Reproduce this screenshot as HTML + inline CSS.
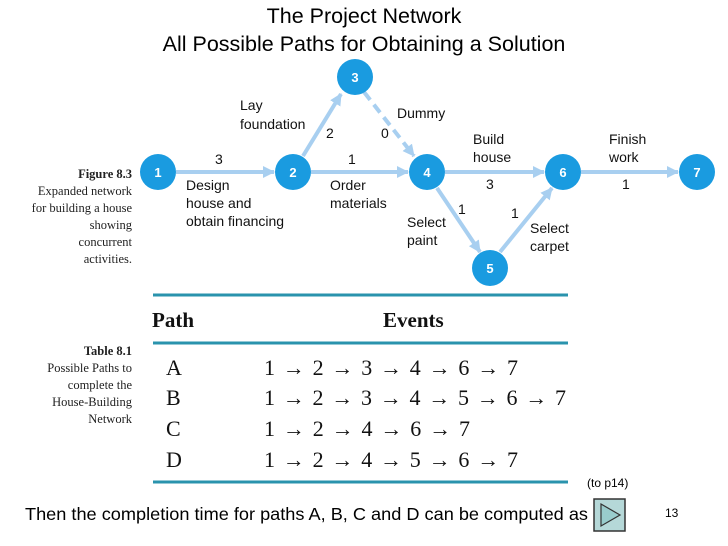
<!DOCTYPE html>
<html><head><meta charset="utf-8"><style>
body{margin:0;background:#fff}
svg{display:block}
</style></head><body>
<svg width="728" height="546" viewBox="0 0 728 546" xmlns="http://www.w3.org/2000/svg">
<defs>
<marker id="a" markerWidth="12" markerHeight="12" refX="11" refY="6" orient="auto" markerUnits="userSpaceOnUse"><path d="M0,0 L12,6 L0,12z" fill="#a8cff0"/></marker>
</defs>
<g font-family="Liberation Sans, sans-serif" fill="#000">
<text x="364" y="23" font-size="21.5" text-anchor="middle">The Project Network</text>
<text x="364" y="51" font-size="21.5" text-anchor="middle">All Possible Paths for Obtaining a Solution</text>
</g>
<g stroke="#a8cff0" stroke-width="4" fill="none">
<line x1="176" y1="172" x2="274" y2="172" marker-end="url(#a)"/>
<line x1="311" y1="172" x2="408" y2="172" marker-end="url(#a)"/>
<line x1="303" y1="156" x2="341" y2="94" marker-end="url(#a)"/>
<line x1="364" y1="92" x2="414" y2="156" stroke-dasharray="10,6" marker-end="url(#a)"/>
<line x1="445" y1="172" x2="544" y2="172" marker-end="url(#a)"/>
<line x1="437" y1="188" x2="480" y2="252" marker-end="url(#a)"/>
<line x1="500" y1="252" x2="552" y2="188" marker-end="url(#a)"/>
<line x1="581" y1="172" x2="678" y2="172" marker-end="url(#a)"/>
</g>
<g fill="#1a9be0">
<circle cx="158" cy="172" r="18"/><circle cx="293" cy="172" r="18"/><circle cx="355" cy="77" r="18"/>
<circle cx="427" cy="172" r="18"/><circle cx="490" cy="268" r="18"/><circle cx="563" cy="172" r="18"/><circle cx="697" cy="172" r="18"/>
</g>
<g font-family="Liberation Sans, sans-serif" font-weight="bold" font-size="13" fill="#fff" text-anchor="middle">
<text x="158" y="177">1</text><text x="293" y="177">2</text><text x="355" y="82">3</text><text x="427" y="177">4</text><text x="490" y="273">5</text><text x="563" y="177">6</text><text x="697" y="177">7</text>
</g>
<g font-family="Liberation Sans, sans-serif" font-size="14" fill="#111">
<text x="215" y="164">3</text><text x="348" y="164">1</text><text x="326" y="138">2</text><text x="381" y="138">0</text>
<text x="486" y="189">3</text><text x="622" y="189">1</text><text x="458" y="214">1</text><text x="511" y="218">1</text>
<text x="186" y="190">Design</text><text x="186" y="208">house and</text><text x="186" y="226">obtain financing</text>
<text x="240" y="110">Lay</text><text x="240" y="129">foundation</text>
<text x="397" y="118">Dummy</text>
<text x="330" y="190">Order</text><text x="330" y="208">materials</text>
<text x="407" y="227">Select</text><text x="407" y="245">paint</text>
<text x="473" y="144">Build</text><text x="473" y="162">house</text>
<text x="530" y="233">Select</text><text x="530" y="251">carpet</text>
<text x="609" y="144">Finish</text><text x="609" y="162">work</text>
</g>
<g font-family="Liberation Serif, serif" font-size="12.5" fill="#222" text-anchor="end">
<text x="132" y="178" font-weight="bold">Figure 8.3</text>
<text x="132" y="195">Expanded network</text>
<text x="132" y="212">for building a house</text>
<text x="132" y="229">showing</text>
<text x="132" y="246">concurrent</text>
<text x="132" y="263">activities.</text>
<text x="132" y="355" font-weight="bold">Table 8.1</text>
<text x="132" y="372">Possible Paths to</text>
<text x="132" y="389">complete  the</text>
<text x="132" y="406">House-Building</text>
<text x="132" y="423">Network</text>
</g>
<g stroke="#2a93ad" stroke-width="3">
<line x1="153" y1="295" x2="568" y2="295"/><line x1="153" y1="343" x2="568" y2="343"/><line x1="153" y1="482" x2="568" y2="482"/>
</g>
<g font-family="Liberation Serif, serif" fill="#111">
<text x="152" y="327" font-size="21" font-weight="bold">Path</text>
<text x="383" y="327" font-size="21" font-weight="bold">Events</text>
<g font-size="22">
<text x="166" y="375">A</text><text x="264" y="375" textLength="254" lengthAdjust="spacing">1 → 2 → 3 → 4 → 6 → 7</text>
<text x="166" y="405">B</text><text x="264" y="405" textLength="302" lengthAdjust="spacing">1 → 2 → 3 → 4 → 5 → 6 → 7</text>
<text x="166" y="436">C</text><text x="264" y="436" textLength="206" lengthAdjust="spacing">1 → 2 → 4 → 6 → 7</text>
<text x="166" y="467">D</text><text x="264" y="467" textLength="254" lengthAdjust="spacing">1 → 2 → 4 → 5 → 6 → 7</text>
</g>
</g>
<g font-family="Liberation Sans, sans-serif" fill="#000">
<text x="587" y="487" font-size="12">(to p14)</text>
<text x="25" y="520" font-size="17.5" textLength="563" lengthAdjust="spacingAndGlyphs">Then the completion time for paths A, B, C and D can be computed as</text>
<text x="665" y="517" font-size="12">13</text>
</g>
<rect x="594" y="499" width="31" height="32" fill="#b5d8d8" stroke="#333" stroke-width="1.5"/>
<path d="M601,504 L620,515 L601,526z" fill="#9cc" stroke="#333" stroke-width="1.2"/>
</svg>
</body></html>
